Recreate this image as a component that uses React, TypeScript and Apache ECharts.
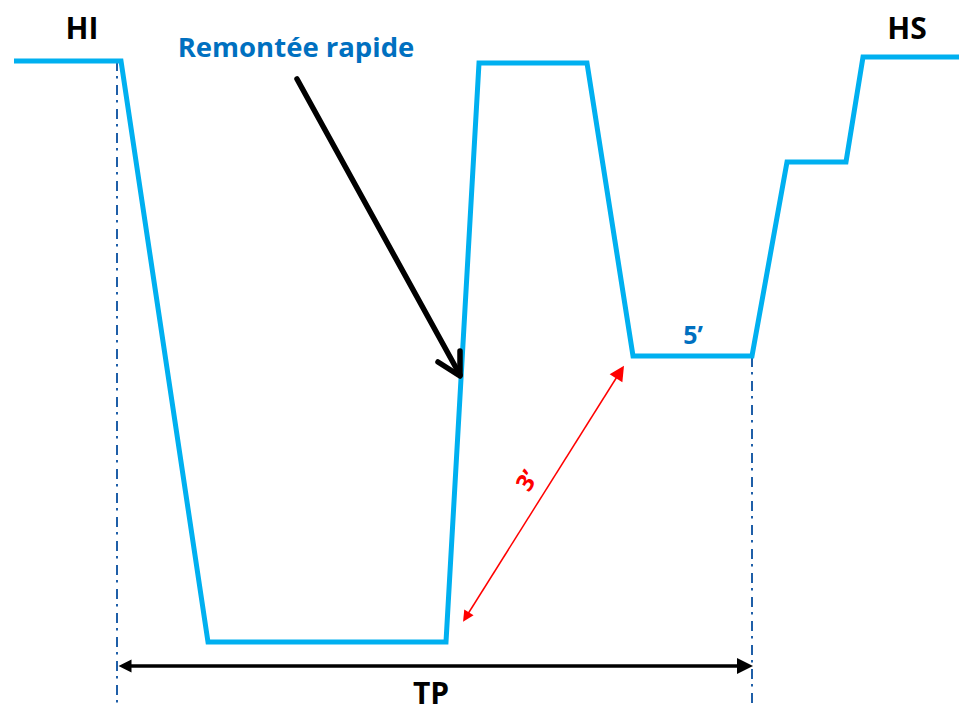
import React, { useEffect, useRef } from "react";
import * as echarts from "echarts";

// Dive profile (x = time position, y = depth position)
const profileX = [14, 121, 208, 446, 479, 587, 633, 752, 787, 846, 863, 959];
const profileY = [61, 61, 642, 642, 63, 63, 356, 356, 162, 162, 57, 57];

// Dash-dot guide lines (start of dive / end of stop)
const guideLeft = [[117, 61], [117, 706]];
const guideRight = [[752, 357], [752, 706]];

// TP double arrow
const tpArrow = [[125, 666], [745, 666]];
// 3' double arrow
const threeArrow = [[466, 617], [620, 372]];
// "Remontée rapide" pointer
const pointerShaft = [[297, 79], [460, 375]];
const pointerHead = [[438, 362], [460, 376], [460, 351]];

// Labels
const labelTexts = ["HI", "HS", "Remontée rapide", "5’", "3’", "TP"];
const labelPos = [[82, 27], [907, 27], [296, 46], [693, 334], [526, 480], [431, 692]];

const FONT = "Open Sans";

export default function App() {
  const ref = useRef<HTMLDivElement>(null);
  useEffect(() => {
    if (!ref.current) return;
    const chart = echarts.init(ref.current, undefined, { renderer: "svg" });
    const labelStyles: any[] = [
      { color: "#000000", fontSize: 30 },
      { color: "#000000", fontSize: 30 },
      { color: "#0070c0", fontSize: 27.5 },
      { color: "#0070c0", fontSize: 25 },
      { color: "#ff0000", fontSize: 24, rotate: 58 },
      { color: "#000000", fontSize: 30 },
    ];
    const textData = labelTexts.map((t, i) => ({
      value: labelPos[i],
      label: {
        show: true,
        formatter: t,
        position: "inside",
        align: "center",
        verticalAlign: "middle",
        fontFamily: FONT,
        fontWeight: "bold",
        opacity: 1,
        ...labelStyles[i],
      },
    }));
    const guideStyle = { color: "#1f5fa8", width: 2, type: [10, 5, 2.5, 6.5] };
    chart.setOption({
      animation: false,
      backgroundColor: "#ffffff",
      grid: { left: 0, right: 0, top: 0, bottom: 0 },
      xAxis: { type: "value", min: 0, max: 959, show: false },
      yAxis: { type: "value", min: 0, max: 706, inverse: true, show: false },
      series: [
        {
          type: "line",
          data: guideLeft,
          symbol: "none",
          silent: true,
          z: 1,
          lineStyle: guideStyle,
        },
        {
          type: "line",
          data: guideRight,
          symbol: "none",
          silent: true,
          z: 1,
          lineStyle: guideStyle,
        },
        {
          type: "line",
          data: profileX.map((x, i) => [x, profileY[i]]),
          symbol: "none",
          silent: true,
          z: 2,
          lineStyle: { color: "#00b0f0", width: 5, join: "miter", cap: "butt" },
        },
        {
          type: "lines",
          coordinateSystem: "cartesian2d",
          silent: true,
          z: 3,
          data: [{ coords: tpArrow }],
          symbol: ["triangle", "triangle"],
          symbolSize: [13, 16],
          lineStyle: { color: "#000000", width: 3.5, opacity: 1 },
        },
        {
          type: "lines",
          coordinateSystem: "cartesian2d",
          silent: true,
          z: 3,
          data: [{ coords: threeArrow }],
          symbol: ["triangle", "triangle"],
          symbolSize: [11, 15],
          lineStyle: { color: "#ff0000", width: 1.5, opacity: 1 },
        },
        {
          type: "lines",
          coordinateSystem: "cartesian2d",
          polyline: true,
          silent: true,
          z: 5,
          data: [{ coords: pointerShaft }, { coords: pointerHead }],
          symbol: "none",
          lineStyle: { color: "#000000", width: 5.5, opacity: 1, join: "round", cap: "round" },
        },
        {
          type: "scatter",
          symbolSize: 0,
          silent: true,
          z: 6,
          itemStyle: { opacity: 1 },
          data: textData,
        },
      ],
    });
    return () => chart.dispose();
  }, []);
  return (
    <div
      ref={ref}
      style={{ position: "absolute", left: 0, top: 0, width: 959, height: 706 }}
    />
  );
}
